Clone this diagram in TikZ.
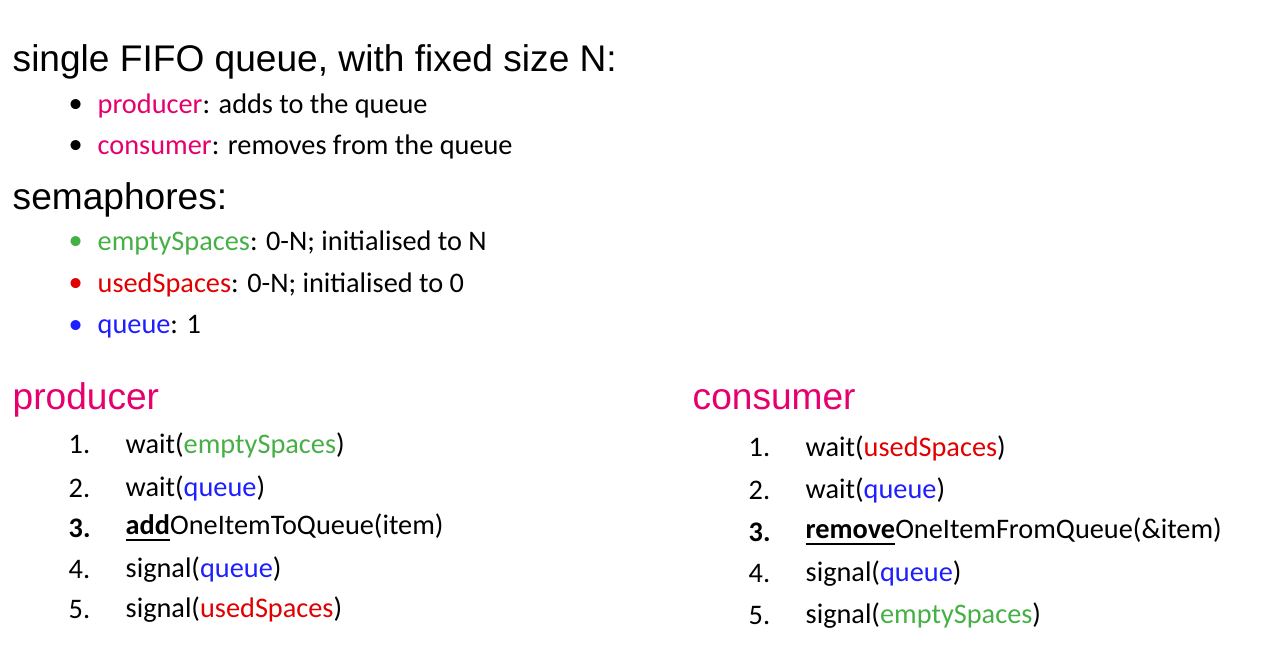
\documentclass[tikz,border=0pt]{standalone}
\usepackage{fontspec}
\setmainfont{Carlito}
\newfontfamily\arialf{Liberation Sans}
\definecolor{pk}{RGB}{230,0,110}
\definecolor{gr}{RGB}{70,175,70}
\definecolor{rd}{RGB}{225,0,0}
\definecolor{bl}{RGB}{30,30,255}
\begin{document}
\begin{tikzpicture}[x=0.01cm,y=-0.01cm,
  head/.style={anchor=west,inner sep=0,font=\arialf\fontsize{10.55pt}{12pt}\selectfont},
  txt/.style={anchor=west,inner sep=0,font=\fontsize{8.05pt}{9pt}\selectfont}]
\useasboundingbox (0,0) rectangle (1287,671);
\node[head] (h1) at (12,62) {single FIFO queue, with fixed size N:};
\node[txt] (d1) at (68,106) {•};
\node[txt] (b1) at (97,106) {\textcolor{pk}{producer}: adds to the queue};
\node[txt] (d2) at (68,147) {•};
\node[txt] (b2) at (97,147) {\textcolor{pk}{consumer}: removes from the queue};
\node[head] (h2) at (12,200) {semaphores:};
\node[txt,text=gr] (d3) at (68,243) {•};
\node[txt] (s1) at (97,243) {\textcolor{gr}{emptySpaces}: 0-N; initialised to N};
\node[txt,text=rd] (d4) at (68,285) {•};
\node[txt] (s2) at (97,285) {\textcolor{rd}{usedSpaces}: 0-N; initialised to 0};
\node[txt,text=bl] (d5) at (68,327) {•};
\node[txt] (s3) at (97,327) {\textcolor{bl}{queue}: 1};
\node[head,text=pk] (pr) at (12,400) {producer};
\node[head,text=pk] (co) at (692,400) {consumer};
\foreach \n/\y/\t in {1/445/{wait(\textcolor{gr}{emptySpaces})},
  2/488/{wait(\textcolor{bl}{queue})},
  3/528/{\underline{\textbf{add}}OneItemToQueue(item)},
  4/570/{signal(\textcolor{bl}{queue})},
  5/610/{signal(\textcolor{rd}{usedSpaces})}}{
  \node[txt] (pn\n) at (68,\y) {\ifnum\n=3 \textbf{\n.}\else\n.\fi};
  \node[txt] (pt\n) at (125,\y) {\t};
}
\foreach \n/\y/\t in {1/448/{wait(\textcolor{rd}{usedSpaces})},
  2/490/{wait(\textcolor{bl}{queue})},
  3/532/{\underline{\textbf{remove}}OneItemFromQueue(\&item)},
  4/574/{signal(\textcolor{bl}{queue})},
  5/616/{signal(\textcolor{gr}{emptySpaces})}}{
  \node[txt] (cn\n) at (748,\y) {\ifnum\n=3 \textbf{\n.}\else\n.\fi};
  \node[txt] (ct\n) at (805,\y) {\t};
}
\end{tikzpicture}
\end{document}
